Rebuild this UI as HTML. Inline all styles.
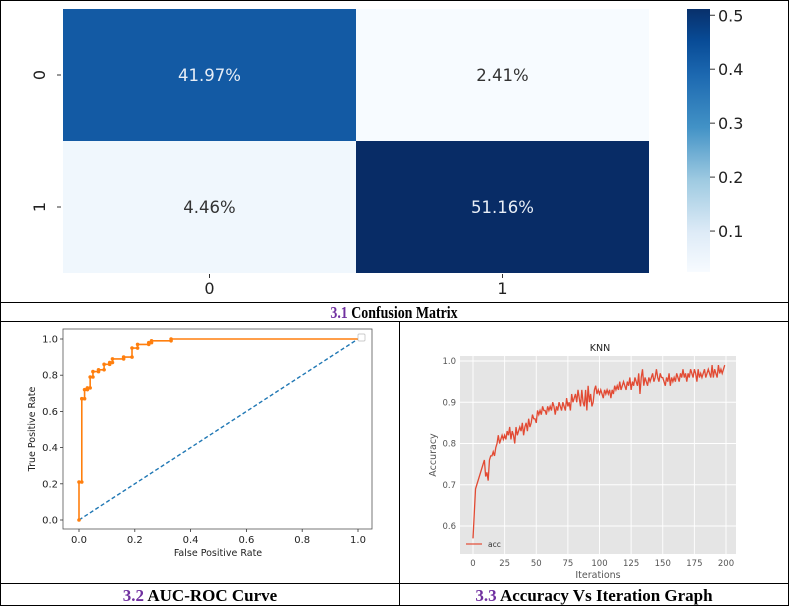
<!DOCTYPE html>
<html><head><meta charset="utf-8"><style>
html,body{margin:0;padding:0;background:#fff;}
svg{display:block;}
text{font-family:"DejaVu Sans","Liberation Sans",sans-serif;}
.cap{font-family:"Liberation Serif",serif;font-weight:bold;font-size:17px;fill:#000;}
.num{fill:#7030a0;}
</style></head><body>
<svg id="fig" width="789" height="606" viewBox="0 0 789 606" xmlns="http://www.w3.org/2000/svg">
<defs>
<linearGradient id="blues" x1="0" y1="1" x2="0" y2="0">
<stop offset="0" stop-color="#f7fbff"/><stop offset="0.15" stop-color="#deebf7"/>
<stop offset="0.35" stop-color="#9ecae1"/><stop offset="0.55" stop-color="#4292c6"/>
<stop offset="0.75" stop-color="#1c68b0"/><stop offset="0.88" stop-color="#084b96"/>
<stop offset="1" stop-color="#08306b"/></linearGradient>
</defs>
<rect x="0.5" y="0.5" width="788" height="605" fill="#fff" stroke="#000"/>
<line x1="0" y1="302.5" x2="789" y2="302.5" stroke="#000"/>
<line x1="0" y1="321.5" x2="789" y2="321.5" stroke="#000"/>
<line x1="0" y1="583.5" x2="789" y2="583.5" stroke="#000"/>
<line x1="399.5" y1="321" x2="399.5" y2="606" stroke="#000"/>
<g id="cm"></g>
<text class="cap" x="394" y="318" text-anchor="middle" transform="translate(394,0) scale(0.82,1) translate(-394,0)"><tspan class="num">3.1</tspan> Confusion Matrix</text>
<g id="roc"></g>
<text class="cap" x="200" y="601" text-anchor="middle"><tspan class="num">3.2</tspan> AUC-ROC Curve</text>
<g id="knn"></g>
<text class="cap" x="594" y="601" text-anchor="middle"><tspan class="num">3.3</tspan> Accuracy Vs Iteration Graph</text>
</svg>
<script>
const NS="http://www.w3.org/2000/svg";
function mk(p,t,a,txt){const e=document.createElementNS(NS,t);for(const k in a)e.setAttribute(k,a[k]);if(txt!==undefined)e.textContent=txt;p.appendChild(e);return e;}

// ---- Confusion matrix data ----
const cmLabels=["0","1"];
const cmValues=[[0.4197,0.0241],[0.0446,0.5116]];
const cmText=[["41.97%","2.41%"],["4.46%","51.16%"]];
const cbTicks=[0.1,0.2,0.3,0.4,0.5];

// ---- ROC data ----
const rocFpr=[0,0,0.01,0.01,0.02,0.02,0.03,0.03,0.04,0.04,0.05,0.05,0.07,0.07,0.09,0.09,0.11,0.11,0.12,0.12,0.16,0.16,0.19,0.19,0.21,0.21,0.25,0.25,0.26,0.26,0.33,0.33,1.0];
const rocTpr=[0,0.21,0.21,0.67,0.67,0.72,0.72,0.73,0.73,0.79,0.79,0.82,0.82,0.83,0.83,0.86,0.86,0.87,0.87,0.89,0.89,0.90,0.90,0.95,0.95,0.97,0.97,0.98,0.98,0.99,0.99,1.0,1.0];
const rocTicks=[0,0.2,0.4,0.6,0.8,1.0];

// ---- KNN accuracy data ----
const accValues=[0.57,0.63,0.69,0.70,0.71,0.72,0.73,0.74,0.75,0.76,
0.72,0.73,0.71,0.76,0.77,0.77,0.78,0.77,0.79,0.80,
0.82,0.80,0.81,0.82,0.81,0.82,0.81,0.83,0.82,0.84,
0.81,0.83,0.82,0.80,0.84,0.82,0.83,0.84,0.83,0.85,
0.82,0.84,0.85,0.83,0.86,0.84,0.85,0.87,0.86,0.86,
0.85,0.88,0.87,0.88,0.87,0.89,0.88,0.88,0.87,0.89,
0.88,0.89,0.88,0.90,0.89,0.87,0.89,0.88,0.90,0.89,
0.88,0.90,0.89,0.88,0.91,0.89,0.90,0.88,0.92,0.90,
0.91,0.92,0.90,0.93,0.91,0.89,0.93,0.90,0.89,0.93,
0.88,0.94,0.90,0.92,0.89,0.90,0.93,0.94,0.92,0.93,
0.92,0.93,0.92,0.91,0.93,0.92,0.93,0.92,0.93,0.91,
0.93,0.92,0.94,0.93,0.94,0.93,0.95,0.93,0.94,0.95,
0.94,0.93,0.95,0.94,0.96,0.93,0.95,0.94,0.96,0.95,
0.94,0.97,0.92,0.96,0.98,0.94,0.96,0.95,0.94,0.96,
0.95,0.96,0.97,0.95,0.96,0.98,0.96,0.95,0.97,0.96,
0.96,0.95,0.94,0.96,0.95,0.97,0.94,0.96,0.95,0.96,
0.95,0.97,0.96,0.95,0.97,0.96,0.98,0.96,0.97,0.95,
0.97,0.96,0.98,0.97,0.96,0.98,0.97,0.95,0.98,0.96,
0.97,0.96,0.97,0.98,0.96,0.97,0.98,0.97,0.96,0.99,
0.96,0.98,0.97,0.96,0.99,0.97,0.98,0.97,0.98,0.99];
const accXTicks=[0,25,50,75,100,125,150,175,200];
const accYTicks=[0.6,0.7,0.8,0.9,1.0];

// ===== Confusion matrix =====
(function(){
const g=document.getElementById('cm');
const L=63,R=649,T=9,B=273;
const cw=(R-L)/2,ch=(B-T)/2;
const vmin=0.0241,vmax=0.5116;
const stops=[[0,[247,251,255]],[0.15,[222,235,247]],[0.35,[158,202,225]],[0.55,[66,146,198]],[0.75,[28,104,176]],[0.88,[8,75,150]],[1,[8,44,102]]];
function col(v){let t=Math.max(0,Math.min(1,(v-vmin)/(vmax-vmin)));for(let i=1;i<stops.length;i++){if(t<=stops[i][0]){const a=stops[i-1],b=stops[i];const f=(t-a[0])/(b[0]-a[0]);const c=a[1].map((x,j)=>Math.round(x+(b[1][j]-x)*f));return 'rgb('+c.join(',')+')';}}return 'rgb(8,44,102)';}
for(let r=0;r<2;r++)for(let c=0;c<2;c++){
 const v=cmValues[r][c];
 const cell=mk(g,'rect',{x:L+c*cw,y:T+r*ch,width:cw,height:ch,fill:col(v)});
 
 
 const t=mk(g,'text',{x:L+c*cw+cw/2,y:T+r*ch+ch/2+6,'text-anchor':'middle','font-size':'16.5',fill:v>0.3?'#e8eef6':'#333'},cmText[r][c]);
 
 
}
for(let i=0;i<2;i++){
 const y=T+i*ch+ch/2;
 mk(g,'line',{x1:L-6,y1:y,x2:L-2,y2:y,stroke:'#333'});
 const t=mk(g,'text',{x:40,y:y,'text-anchor':'middle','font-size':'16',fill:'#222',transform:'rotate(-90 40 '+y+') translate(0,5)'},cmLabels[i]);
 
 
 const x=L+i*cw+cw/2;
 mk(g,'line',{x1:x,y1:B+1,x2:x,y2:B+5,stroke:'#333'});
 const tx=mk(g,'text',{x:x,y:294,'text-anchor':'middle','font-size':'16',fill:'#222'},cmLabels[i]);
 
 
}
const CL=687,CR=710,CT=9,CB=272;
const cb=mk(g,'rect',{x:CL,y:CT,width:CR-CL,height:CB-CT,fill:'url(#blues)'});


cbTicks.forEach(v=>{const y=CB-(v-vmin)/(vmax-vmin)*(CB-CT);
 mk(g,'line',{x1:CR,y1:y,x2:CR+5,y2:y,stroke:'#333'});
 const t=mk(g,'text',{x:CR+8,y:y+6,'font-size':'16',fill:'#222'},v.toFixed(1));
 
 });
})();

// ===== ROC =====
(function(){
const g=document.getElementById('roc');
const L=63,R=372,T=329,B=529;
const sx=v=>79+v*(358-79), sy=v=>520-v*(520-339);
mk(g,'rect',{x:L,y:T,width:R-L,height:B-T,fill:'#fff',stroke:'#555','stroke-width':0.8});
rocTicks.forEach(v=>{
 mk(g,'line',{x1:sx(v),y1:B,x2:sx(v),y2:B+3,stroke:'#333','stroke-width':0.8});
 const a=mk(g,'text',{x:sx(v),y:B+14,'text-anchor':'middle','font-size':'10',fill:'#222'},v.toFixed(1));
 
 
 mk(g,'line',{x1:L-3,y1:sy(v),x2:L,y2:sy(v),stroke:'#333','stroke-width':0.8});
 const b=mk(g,'text',{x:L-5,y:sy(v)+3.5,'text-anchor':'end','font-size':'10',fill:'#222'},v.toFixed(1));
 
 
});
const xl=mk(g,'text',{x:218,y:556,'text-anchor':'middle','font-size':'9.5',fill:'#222'},'False Positive Rate');


const yl=mk(g,'text',{x:35,y:429,'text-anchor':'middle','font-size':'9.5',fill:'#222',transform:'rotate(-90 35 429)'},'True Positive Rate');


const d=mk(g,'line',{x1:sx(0),y1:sy(0),x2:sx(1),y2:sy(1),stroke:'#1f77b4','stroke-width':1.4,'stroke-dasharray':'4,2.5'});


const p=mk(g,'polyline',{points:rocFpr.map((x,i)=>sx(x)+','+sy(rocTpr[i])).join(' '),fill:'none',stroke:'#ff7f0e','stroke-width':1.6});


rocFpr.forEach((x,i)=>{if(x<1){const m=mk(g,'circle',{cx:sx(x),cy:sy(rocTpr[i]),r:1.8,fill:'#ff7f0e'});
 
 }});
const lg=mk(g,'rect',{x:358,y:334,width:7,height:7,fill:'#fff',stroke:'#bbb','stroke-width':0.7,rx:1});


})();

// ===== KNN =====
(function(){
const g=document.getElementById('knn');
const L=460,R=736,T=356,B=554;
const sx=v=>473+v*(726-473)/200, sy=v=>526-(v-0.6)*(526-361)/0.4;
mk(g,'rect',{x:L,y:T,width:R-L,height:B-T,fill:'#e5e5e5'});
accXTicks.forEach(v=>{mk(g,'line',{x1:sx(v),y1:T,x2:sx(v),y2:B,stroke:'#fff','stroke-width':0.9});
 const t=mk(g,'text',{x:sx(v),y:B+12,'text-anchor':'middle','font-size':'8.5',fill:'#555'},String(v));
 
 });
accYTicks.forEach(v=>{mk(g,'line',{x1:L,y1:sy(v),x2:R,y2:sy(v),stroke:'#fff','stroke-width':0.9});
 const t=mk(g,'text',{x:L-4,y:sy(v)+3,'text-anchor':'end','font-size':'8.5',fill:'#555'},v.toFixed(1));
 
 });
const ti=mk(g,'text',{x:600,y:351,'text-anchor':'middle','font-size':'9.5',fill:'#222'},'KNN');


const xl=mk(g,'text',{x:598,y:578,'text-anchor':'middle','font-size':'9.5',fill:'#555'},'Iterations');


const yl=mk(g,'text',{x:436,y:455,'text-anchor':'middle','font-size':'9.5',fill:'#555',transform:'rotate(-90 436 455)'},'Accuracy');


const p=mk(g,'polyline',{points:accValues.map((v,i)=>sx(i)+','+sy(v)).join(' '),fill:'none',stroke:'#e24a33','stroke-width':1.3});


const ll=mk(g,'line',{x1:466,y1:544,x2:482,y2:544,stroke:'#e24a33','stroke-width':1.2});


const lt=mk(g,'text',{x:488,y:547,'font-size':'7.5','fill':'#333'},'acc');


})();
</script>
</body></html>
